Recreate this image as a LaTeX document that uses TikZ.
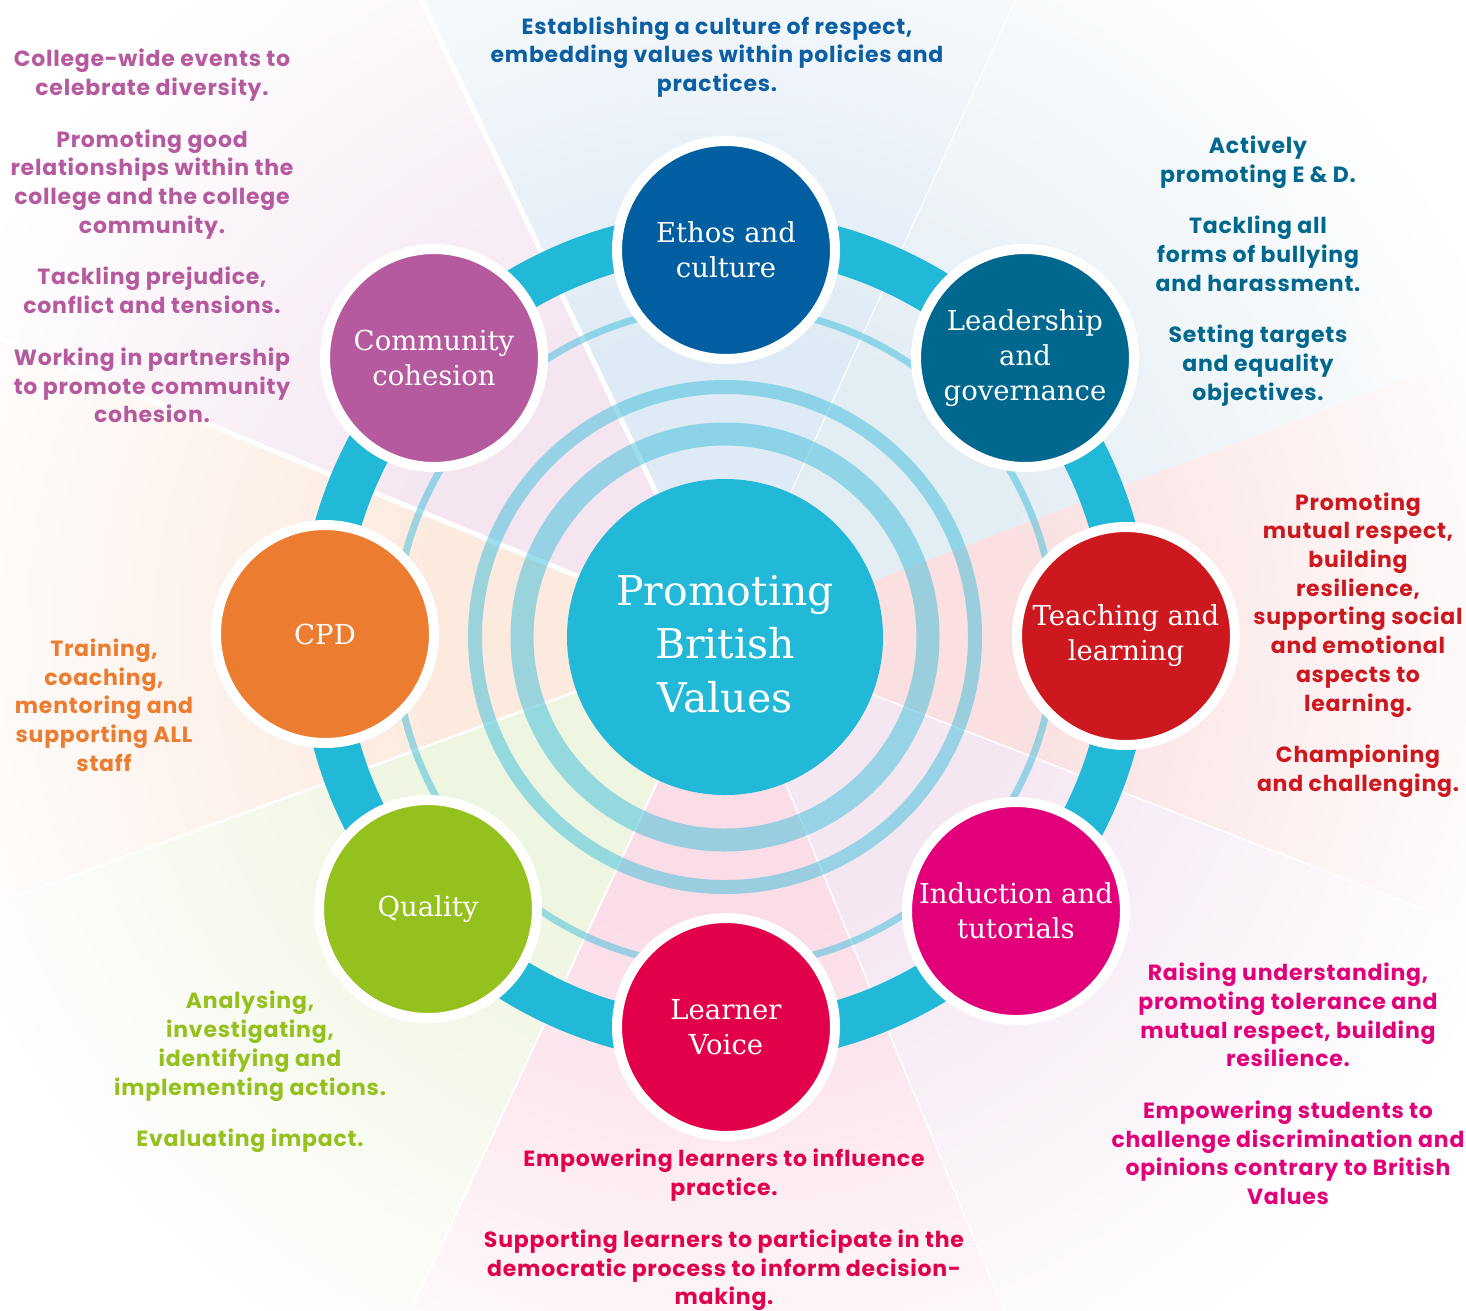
\documentclass[tikz,border=0pt]{standalone}
\usepackage{fontspec}
\setmainfont{DejaVu Serif}
\newfontfamily\sansb{Poppins}[LetterSpace=3.5]
\definecolor{cEthos}{RGB}{1,94,161}
\definecolor{cLead}{RGB}{0,103,142}
\definecolor{cTeach}{RGB}{204,24,30}
\definecolor{cInduc}{RGB}{226,0,122}
\definecolor{cLearn}{RGB}{226,0,74}
\definecolor{cQual}{RGB}{149,193,31}
\definecolor{cCPD}{RGB}{236,124,48}
\definecolor{cComm}{RGB}{181,90,158}
\definecolor{cCenter}{RGB}{34,184,216}
\definecolor{ringblue}{RGB}{60,190,220}
\definecolor{tEthos}{RGB}{12,95,163}
\definecolor{wEthos}{RGB}{222,234,245}
\definecolor{wLead}{RGB}{227,237,244}
\definecolor{wTeach}{RGB}{250,224,224}
\definecolor{wInduc}{RGB}{245,231,242}
\definecolor{wLearn}{RGB}{251,221,232}
\definecolor{wQual}{RGB}{238,245,224}
\definecolor{wCPD}{RGB}{252,234,223}
\definecolor{wComm}{RGB}{244,229,241}
\colorlet{wedgecol}{white}
\pgfdeclareradialshading[wedgecol]{wfade}{\pgfpoint{0bp}{0bp}}{color(0bp)=(wedgecol); color(7.6bp)=(wedgecol); color(21bp)=(white); color(50bp)=(white)}
\begin{document}
\begin{tikzpicture}[x=1pt,y=-1pt,
  sat/.style={circle, draw=white, line width=10pt, minimum size=218pt, inner sep=0pt,
    text=white, align=center, font=\fontsize{27.5}{35}\selectfont},
  hub/.style={circle, minimum size=316pt, inner sep=0pt, fill=cCenter},
  hubtext/.style={text=white, align=center, inner sep=0pt, font=\fontsize{41}{53.5}\selectfont},
  desc/.style={align=center, inner sep=0pt, font=\sansb\bfseries\fontsize{22}{28.7}\selectfont},
  ringc/.style={draw=ringblue, draw opacity=0.5},
  wline/.style={draw=white}
]
\useasboundingbox (0,0) rectangle (1466,1310);
\coordinate (C) at (725,637);
% background wedges
\foreach \a/\b/\col in {-21.3/20.8/wTeach, 20.8/65.5/wLead, 65.5/115.5/wEthos,
  115.5/157.6/wComm, 157.6/200.1/wCPD, 200.1/245/wQual, 245/292.5/wLearn, 292.5/338.7/wInduc}{
  \begin{scope}
    \clip (C) -- +(-\a:2600) -- +({-(\a+\b)/2}:2600) -- +(-\b:2600) -- cycle;
    \colorlet{wedgecol}{\col}
    \shade[shading=wfade] (C) circle (1000pt);
  \end{scope}
}
% separating lines
\foreach \a/\w in {115.5/5, 157.6/5, 200.1/2.5, 245/2, 292.5/1.5, 338.7/1.5, 65.5/1}{
  \draw[wline, line width=\w pt] (C) -- +(-\a:1500);
}
% rings
\draw[ringc, line width=23pt] (C) circle (203pt);
\draw[ringc, line width=14pt] (C) circle (250pt);
\draw[ringc, line width=7pt] (C) circle (330pt);
\draw[draw=cCenter, line width=46pt] (C) circle (403pt);
% satellites
\node[sat, fill=cEthos] (ethos) at (726,250) {Ethos and\\culture};
\node[sat, fill=cLead] (lead) at (1025,358) {Leadership\\and\\governance};
\node[sat, fill=cTeach] (teach) at (1126,636) {Teaching and\\learning};
\node[sat, fill=cInduc] (induc) at (1016,911) {Induction and\\tutorials};
\node[sat, fill=cLearn] (learn) at (726,1027) {Learner\\Voice};
\node[sat, fill=cQual] (qual) at (428,909) {Quality};
\node[sat, fill=cCPD] (cpd) at (325,634) {CPD};
\node[sat, fill=cComm] (comm) at (434,358) {Community\\cohesion};
% hub
\node[hub] (hub) at (C) {};
\node[hubtext] (hubt) at (725,644) {Promoting\\British\\Values};
% descriptions
\node[desc, text=tEthos] (dEthos) at (717,57) {Establishing a culture of respect,\\embedding values within policies and\\practices.};
\node[desc, text=cLead] (dLead) at (1258,271) {Actively\\promoting E \& D.\\[23pt]Tackling all\\forms of bullying\\and harassment.\\[23pt]Setting targets\\and equality\\objectives.};
\node[desc, text=cTeach] (dTeach) at (1358,645) {Promoting\\mutual respect,\\building\\resilience,\\supporting social\\and emotional\\aspects to\\learning.\\[23pt]Championing\\and challenging.};
\node[desc, text=cInduc] (dInduc) at (1288,1084) {Raising understanding,\\promoting tolerance and\\mutual respect, building\\resilience.\\[23pt]Empowering students to\\challenge discrimination and\\opinions contrary to British\\Values};
\node[desc, text=cLearn] (dLearn) at (724,1230) {Empowering learners to influence\\practice.\\[23pt]Supporting learners to participate in the\\democratic process to inform decision-\\making.};
\node[desc, text=cQual] (dQual) at (250,1072) {Analysing,\\investigating,\\identifying and\\implementing actions.\\[23pt]Evaluating impact.};
\node[desc, text=cCPD] (dCPD) at (104,705) {Training,\\coaching,\\mentoring and\\supporting ALL\\staff};
\node[desc, text=cComm] (dComm) at (152,236) {College-wide events to\\celebrate diversity.\\[23pt]Promoting good\\relationships within the\\college and the college\\community.\\[23pt]Tackling prejudice,\\conflict and tensions.\\[23pt]Working in partnership\\to promote community\\cohesion.};
\end{tikzpicture}
\end{document}
